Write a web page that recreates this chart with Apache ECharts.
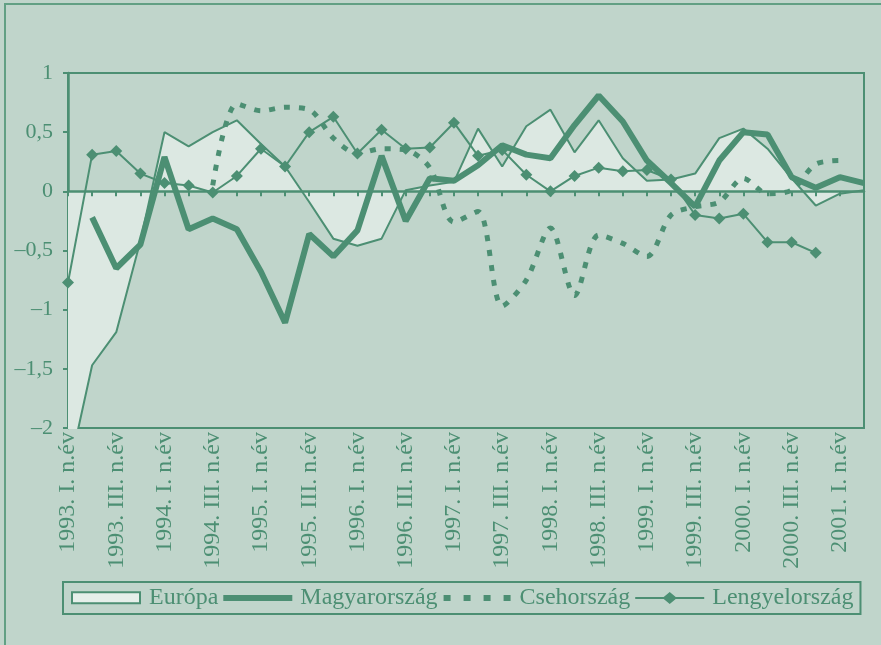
<!DOCTYPE html>
<html style="height: 100%; width: 100%">
<head>
  <meta charset="utf-8" />
</head>
<body style="height: 100%; width: 100%; margin: 0; background: #c0d5cb;">
  <div id="chart-panel" style="width: 881px; height: 645px;"></div>
  <script type="text/javascript" src="https://cdn.jsdelivr.net/npm/echarts@6/dist/echarts.min.js"></script>
  <script type="text/javascript">
    // negyedévek 1993 I. - 2001 II.
    var years = ["1993", "1994", "1995", "1996", "1997", "1998", "1999", "2000", "2001"];
    var quarters = ["I.", "II.", "III.", "IV."];
    var categories = [];
    for (var y = 0; y < years.length; y++) {
      for (var q = 0; q < 4; q++) {
        if (categories.length < 34) categories.push(years[y] + ". " + quarters[q] + " n.év");
      }
    }

    var europa = [-2.4, -1.47, -1.19, -0.42, 0.50, 0.38, 0.50, 0.60, 0.40, 0.21, -0.09, -0.40, -0.46, -0.40, 0.01, 0.05,
      0.08, 0.53, 0.21, 0.55, 0.69, 0.33, 0.60, 0.28, 0.09, 0.10, 0.15, 0.45, 0.53, 0.36, 0.11, -0.12, -0.02, 0.01];
    var magyar = [null, -0.22, -0.65, -0.45, 0.29, -0.32, -0.23, -0.32, -0.68, -1.11, -0.36, -0.55, -0.33, 0.30, -0.25, 0.11,
      0.09, 0.22, 0.39, 0.31, 0.28, 0.56, 0.81, 0.59, 0.26, 0.07, -0.13, 0.26, 0.50, 0.48, 0.12, 0.03, 0.12, 0.07];
    var cseh = [null, null, null, null, null, null, 0.05, 0.74, 0.68, 0.71, 0.69, 0.45, 0.32, 0.36, 0.35, 0.20,
      -0.26, -0.17, -0.97, -0.75, -0.31, -0.88, -0.37, -0.44, -0.55, -0.20, -0.13, -0.09, 0.11, -0.02, 0.01, 0.23, 0.26, null];
    var lengyel = [-0.77, 0.31, 0.34, 0.15, 0.07, 0.05, -0.01, 0.13, 0.36, 0.21, 0.50, 0.63, 0.32, 0.52, 0.36, 0.37,
      0.58, 0.30, 0.35, 0.14, 0.00, 0.13, 0.20, 0.17, 0.18, 0.10, -0.20, -0.23, -0.19, -0.43, -0.43, -0.52, null, null];

    var green = "#4c8f73";
    var fontFam = "'Liberation Serif', 'Times New Roman', serif";

    // jelmagyarázat ikonok (72x12 doboz, a rajz 0..69)
    var iconBox = "path://M0,0.5 L68,0.5 L68,11.5 L0,11.5 Z M72,12";
    var iconThick = "path://M0,0 M0,3 L69,3 L69,9 L0,9 Z M72,12";
    var iconDash = "path://M0,0 M1,3 h7 v6 h-7 Z M21,3 h7 v6 h-7 Z M41,3 h7 v6 h-7 Z M61,3 h7 v6 h-7 Z M72,12";
    var iconDiamond = "path://M0,5 L28.5,5 L34.5,0 L40.5,5 L69,5 L69,7 L40.5,7 L34.5,12 L28.5,7 L0,7 Z M72,12";

    var myChart = echarts.init(document.getElementById("chart-panel"));

    var option = {
      animation: false,
      backgroundColor: "#c0d5cb",
      textStyle: { fontFamily: fontFam, color: green },
      graphic: [{
        type: "rect",
        shape: { x: 5, y: 4, width: 1000, height: 1000 },
        style: { fill: "none", stroke: "#62a084", lineWidth: 2 },
        silent: true
      }],
      grid: {
        left: 68, top: 73, right: 17, bottom: 217,
        show: true, borderColor: green, borderWidth: 2,
        backgroundColor: "transparent"
      },
      legend: {
        left: 63, top: 582,
        padding: [4, 7, 4, 8],
        borderColor: green, borderWidth: 2,
        itemWidth: 72, itemHeight: 12, itemGap: 5,
        textStyle: { fontFamily: fontFam, fontSize: 24, color: green },
        data: [
          { name: "Európa", icon: iconBox, itemStyle: { color: "#e6efea", borderColor: green, borderWidth: 2 } },
          { name: "Magyarország", icon: iconThick, itemStyle: { color: green, borderWidth: 0 } },
          { name: "Csehország", icon: iconDash, itemStyle: { color: green, borderWidth: 0 } },
          { name: "Lengyelország", icon: iconDiamond, itemStyle: { color: green, borderWidth: 0 } }
        ]
      },
      xAxis: [
        {
          type: "category",
          data: categories,
          boundaryGap: false,
          position: "bottom",
          z: 3,
          axisLine: { onZero: true, onZeroAxisIndex: 0, lineStyle: { color: green, width: 2.5 } },
          axisTick: { show: true, interval: 0, length: 5, lineStyle: { color: green, width: 2 } },
          axisLabel: { show: false }
        },
        {
          type: "category",
          data: categories,
          boundaryGap: false,
          position: "bottom",
          axisLine: { onZero: false, lineStyle: { color: green, width: 2 } },
          axisTick: { show: false },
          axisLabel: {
            interval: 1, rotate: 90, margin: 4,
            fontFamily: fontFam, fontSize: 24, color: green
          }
        }
      ],
      yAxis: {
        type: "value",
        min: -2, max: 1, interval: 0.5,
        axisLine: { show: true, onZero: false, lineStyle: { color: green, width: 2.5 } },
        axisTick: { show: true, length: 5, lineStyle: { color: green, width: 2 } },
        splitLine: { show: false },
        axisLabel: {
          margin: 15, fontFamily: fontFam, fontSize: 22, color: green,
          formatter: function (v) { return String(v).replace(".", ",").replace("-", "–"); }
        }
      },
      series: [
        {
          name: "Európa", type: "line", data: europa,
          symbol: "none", clip: true,
          lineStyle: { color: green, width: 2 },
          itemStyle: { color: green },
          areaStyle: { color: "#dce8e2", opacity: 1, origin: 0 },
          z: 1
        },
        {
          name: "Magyarország", type: "line", data: magyar,
          symbol: "none",
          lineStyle: { color: green, width: 6 },
          itemStyle: { color: green },
          z: 4
        },
        {
          name: "Csehország", type: "line", data: cseh,
          symbol: "none", smooth: 0.3,
          lineStyle: { color: green, width: 5, type: [6, 9] },
          itemStyle: { color: green },
          z: 5
        },
        {
          name: "Lengyelország", type: "line", data: lengyel,
          symbol: "diamond", symbolSize: 12,
          lineStyle: { color: green, width: 2 },
          itemStyle: { color: green },
          z: 6
        }
      ]
    };

    myChart.setOption(option);
  </script>
</body>
</html>
